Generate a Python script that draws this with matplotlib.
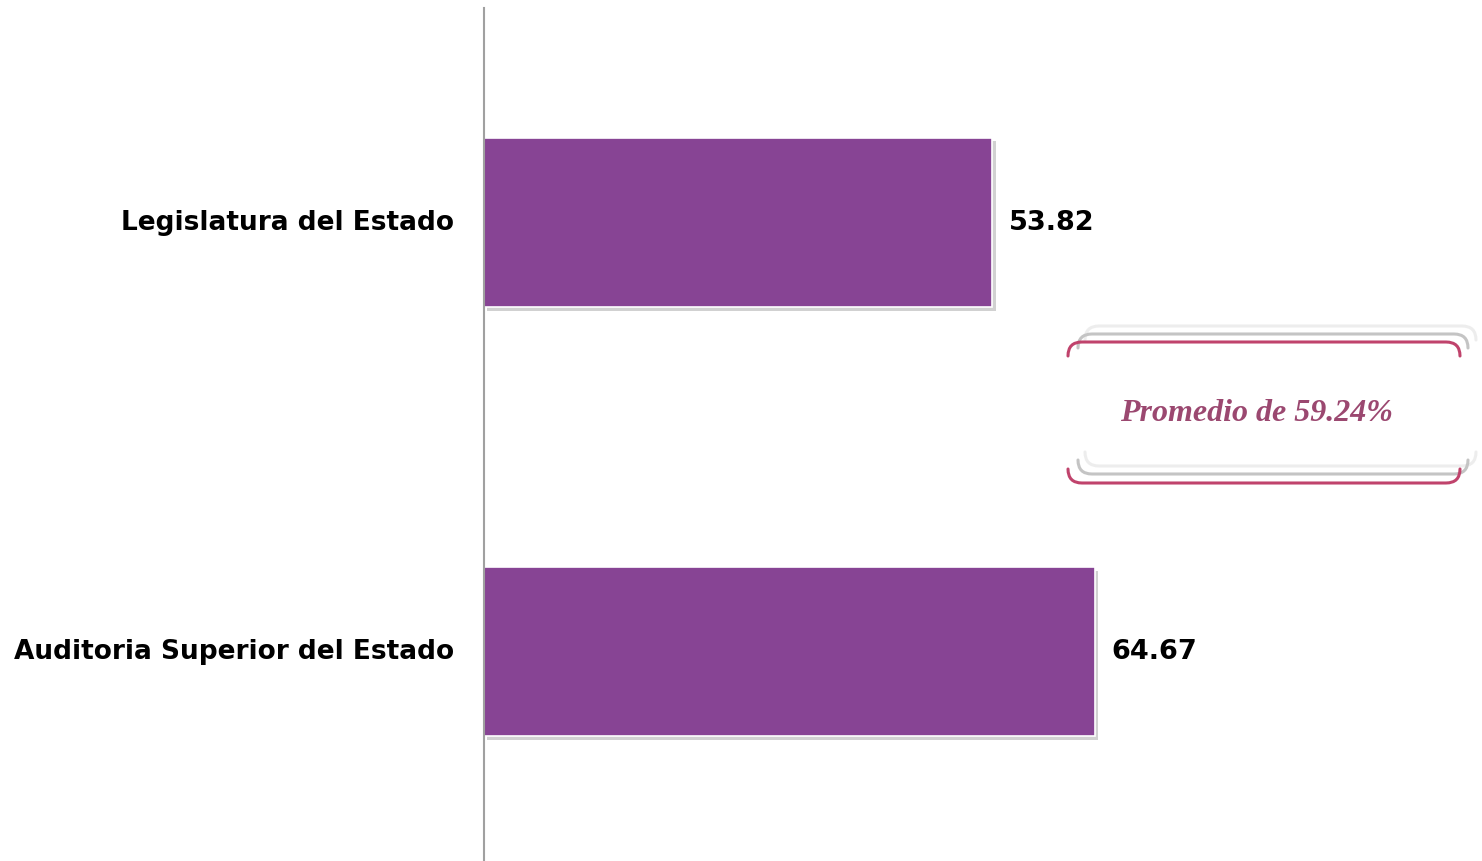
import matplotlib
matplotlib.use("Agg")
import matplotlib.pyplot as plt
import matplotlib.patheffects as pe
from matplotlib.path import Path
from matplotlib.patches import PathPatch

# data
categories = ["Auditoria Superior del Estado", "Legislatura del Estado"]
values = [64.67, 53.82]
promedio = 59.24

W, H = 1482, 861
fig = plt.figure(figsize=(W / 100, H / 100), dpi=100)
ax = fig.add_axes([484 / W, 0, 1 - 484 / W, 853 / H])

pos = list(range(len(categories)))
bars = ax.barh(pos, values, height=0.394, color="#874494", edgecolor="white", linewidth=1.2)
for b in bars:
    b.set_path_effects([pe.SimplePatchShadow(offset=(2.5, -2.5), shadow_rgbFace="#9a9a9a", alpha=0.45), pe.Normal()])

for p, v in zip(pos, values):
    ax.text(v + 1.8, p, f"{v:.2f}", va="center", ha="left", fontsize=19.5,
            fontweight="bold", family="DejaVu Sans")

ax.set_xlim(0, 105.7)
ax.set_ylim(-0.488, 1.5)
ax.set_yticks(pos)
ax.set_yticklabels(categories, fontsize=19, fontweight="bold")
ax.tick_params(axis="y", length=0, pad=29)
for lab in ax.get_yticklabels():
    lab.set_y(lab.get_position()[1])
ax.set_xticks([])
for s in ["top", "right", "bottom"]:
    ax.spines[s].set_visible(False)
ax.spines["left"].set_color("#a0a0a0")
ax.spines["left"].set_linewidth(1.5)
# ticklabels a little higher, like the reference
import matplotlib.transforms as mtransforms
off = mtransforms.ScaledTranslation(10 / 100, 3 / 100, fig.dpi_scale_trans)
for lab in ax.get_yticklabels():
    lab.set_transform(lab.get_transform() + off)


# callout bracket (pixel coords, y from top)
def bracket(x0, x1, y, r, up, color, lw):
    d = -r if up else r
    verts = [(x0, y + d), (x0, y), (x0 + r, y), (x1 - r, y), (x1, y), (x1, y + d)]
    codes = [Path.MOVETO, Path.CURVE3, Path.CURVE3, Path.LINETO, Path.CURVE3, Path.CURVE3]
    verts = [(vx / W, 1 - vy / H) for vx, vy in verts]
    fig.add_artist(PathPatch(Path(verts, codes), fill=False, edgecolor=color,
                             linewidth=lw, transform=fig.transFigure, capstyle="round"))


bracket(1085, 1476, 326, 14, False, "#ededed", 2.2)
bracket(1078, 1468, 334, 14, False, "#c4c4c4", 2.2)
bracket(1068, 1460, 342, 14, False, "#c0436c", 2.2)
bracket(1085, 1476, 466, 14, True, "#ededed", 2.2)
bracket(1078, 1468, 474, 14, True, "#c4c4c4", 2.2)
bracket(1068, 1460, 483, 14, True, "#c0436c", 2.2)

fig.text(1256 / W, 1 - 413 / H, f"Promedio de {promedio:.2f}%", ha="center", va="center",
         fontsize=23, fontweight="bold", fontstyle="italic", family="Liberation Serif",
         color="#9b4870")

fig.savefig("out.png", dpi=100, facecolor="white")
